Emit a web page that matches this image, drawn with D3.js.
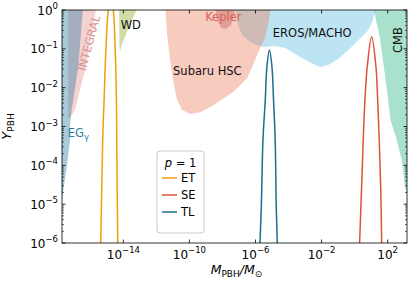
<!DOCTYPE html>
<html>
<head>
<meta charset="utf-8">
<script src="https://cdn.jsdelivr.net/npm/d3@7"></script>
<style>
  body { margin: 0; background: #fff; }
  text { font-family: "DejaVu Sans", sans-serif; }
</style>
</head>
<body>
<div id="chart"></div>
<script>
// --- tick values ---
const xTicks = [1e-14, 1e-10, 1e-6, 1e-2, 1e2];
const yTicks = [1e-6, 1e-5, 1e-4, 1e-3, 1e-2, 1e-1, 1];

// --- constraint regions, [M_PBH/M_sun, Y_PBH] ---
const integral = [[4.47e-18, 1.26], [2.45e-16, 1.26], [4.79e-17, 0.0285], [1.17e-17, 2.66e-3],
  [5.89e-18, 1.66e-3], [4.47e-18, 1.76e-3]];
const egamma = [[3.16e-19, 1.26], [3.63e-17, 1.26], [1.86e-17, 0.0347], [7.41e-18, 2.66e-3],
  [5.89e-18, 1.1e-3], [5.89e-18, 4.47e-4], [3.89e-18, 1.02e-4], [2.57e-18, 3.09e-5],
  [1.91e-18, 1.29e-5], [1.26e-18, 5e-6], [3.16e-19, 5e-6]];
const wd = [[5.5e-15, 1.26], [8.13e-14, 1.26], [2.0e-14, 0.339], [7.94e-15, 0.126],
  [6.31e-15, 0.0843], [5.75e-15, 0.126]];
const eros = [[5.89e-8, 1.26], [8.91e-8, 0.411], [1.55e-7, 0.227], [4.79e-7, 0.15], [2.57e-6, 0.111],
  [1.55e-5, 0.118], [6.31e-5, 0.105], [3.89e-4, 0.0653], [2.34e-3, 0.0432], [8.32e-3, 0.034],
  [0.0251, 0.0384], [0.102, 0.0547], [0.417, 0.0933], [1.7, 0.169], [6.03, 0.288],
  [12.0, 0.491], [20.9, 1.26]];
const subaru = [[3.39e-12, 1.26], [4.47e-12, 0.227], [6.76e-12, 0.0515], [1.02e-11, 0.0158],
  [1.78e-11, 4.79e-3], [3.63e-11, 2.66e-3], [1.1e-10, 2.09e-3], [4.47e-10, 2.34e-3],
  [2.75e-9, 3.55e-3], [4.37e-8, 7.76e-3], [3.16e-7, 0.0178], [8.32e-7, 0.0457],
  [1.91e-6, 0.105], [3.8e-6, 0.19], [5.75e-6, 0.411], [8.91e-6, 1.26]];
const kepler = [[3.63e-9, 1.26], [4.79e-9, 0.552], [8.32e-9, 0.344], [1.66e-8, 0.324],
  [3.31e-8, 0.411], [5.13e-8, 0.743], [5.89e-8, 1.26]];
const cmb = [[12.9, 1.26], [33.9, 0.19], [87.1, 9.77e-3], [148, 1.48e-3], [355, 4.47e-4],
  [708, 1.38e-4], [1122, 2.75e-5], [1698, 1.51e-5], [3162, 1.51e-5], [3162, 1.26]];

// --- PBH abundance curves, p = 1 ---
const et = [[3.98e-16, 5e-7], [4.27e-16, 1e-6], [5.6e-16, 4.47e-4], [6.8e-16, 4.79e-3],
  [8.91e-16, 0.1135], [1.23e-15, 1], [1.74e-15, 2.0], [2.45e-15, 1], [3.16e-15, 0.1135],
  [3.8e-15, 4.79e-3], [3.98e-15, 4.47e-4], [4.57e-15, 1e-6], [4.79e-15, 5e-7]];
const se = [[1.9, 5e-7], [2.0, 1e-6], [2.65, 2.82e-5], [3.31, 4.47e-4], [4.21, 4.79e-3],
  [5.81, 0.0347], [10.7, 0.205], [19.5, 0.0347], [24.8, 4.79e-3], [30.9, 4.47e-4],
  [37.7, 2.82e-5], [43.3, 1e-6], [44.7, 5e-7]];
const tl = [[1.78e-6, 5e-7], [1.86e-6, 1e-6], [2.24e-6, 8.5e-6], [2.82e-6, 4.47e-4],
  [3.89e-6, 4.79e-3], [4.9e-6, 0.0347], [6.95e-6, 0.093], [9.86e-6, 0.0347],
  [1.23e-5, 4.79e-3], [1.55e-5, 4.47e-4], [1.8e-5, 8.5e-6], [2.07e-5, 1e-6], [2.14e-5, 5e-7]];

const W = 411, H = 284;
const margin = { top: 10, right: 4, bottom: 41, left: 62 };

const svg = d3.select("#chart").append("svg")
  .attr("width", W).attr("height", H);

const x = d3.scaleLog()
  .domain([Math.pow(10, -17.715), Math.pow(10, 3.17)])
  .range([margin.left, W - margin.right]);
const y = d3.scaleLog()
  .domain([1e-6, 1])
  .range([H - margin.bottom, margin.top]);

svg.append("clipPath").attr("id", "plot")
  .append("rect")
  .attr("x", margin.left).attr("y", margin.top)
  .attr("width", W - margin.left - margin.right)
  .attr("height", H - margin.top - margin.bottom);

const plot = svg.append("g").attr("clip-path", "url(#plot)");

const area = d3.line().x(d => x(d[0])).y(d => y(d[1]));
const curve = d3.line().x(d => x(d[0])).y(d => y(d[1])).curve(d3.curveCatmullRom);

// regions, drawn back to front
const regions = [
  { data: integral, fill: "#de6969", op: 0.3 },
  { data: egamma, fill: "#287aa0", op: 0.4 },
  { data: wd, fill: "#8aab22", op: 0.4 },
  { data: eros, fill: "#26a5d4", op: 0.3 },
  { data: subaru, fill: "#eb7d5c", op: 0.4 },
  { data: kepler, fill: "#c0605a", op: 0.4 },
  { data: cmb, fill: "#2ab482", op: 0.4 }
];
plot.selectAll("path.region")
  .data(regions).enter().append("path")
  .attr("class", "region")
  .attr("d", d => area(d.data) + "Z")
  .attr("fill", d => d.fill)
  .attr("fill-opacity", d => d.op);

// region labels
function label(txt, M, Y, opts) {
  const t = plot.append("text")
    .attr("x", x(M)).attr("y", y(Y))
    .attr("font-size", 11.5)
    .attr("fill", opts.color || "#111")
    .attr("text-anchor", opts.anchor || "start")
    .text(txt);
  if (opts.rotate) {
    t.attr("transform", `rotate(${opts.rotate},${x(M)},${y(Y)})`);
  }
  return t;
}
label("WD", 6.9e-15, 0.318, {});
label("Subaru HSC", 1.02e-11, 0.0212, {});
label("EROS/MACHO", 1.12e-5, 0.205, {});
label("Kepler", 8.9e-10, 0.53, { color: "#d9625c" });
label("CMB", 690, 0.169, { rotate: -90, anchor: "middle" });
label("INTEGRAL", 8.3e-17, 0.141, { rotate: -74.7, anchor: "middle", color: "#d99494" })
  .attr("dominant-baseline", "central");
const eg = label("EG", 4.27e-18, 5.46e-4, { color: "#2f7fa6" });
eg.append("tspan").attr("dy", 3).attr("font-size", 8.5).text("γ");

// curves
const lines = [
  { name: "ET", data: et, color: "#f09c0c" },
  { name: "SE", data: se, color: "#dd5238" },
  { name: "TL", data: tl, color: "#1d6d8e" }
];
plot.selectAll("path.curve")
  .data(lines).enter().append("path")
  .attr("class", "curve")
  .attr("d", d => curve(d.data))
  .attr("fill", "none")
  .attr("stroke", d => d.color)
  .attr("stroke-width", 1.5);

// --- axes frame and ticks ---
const x0 = margin.left, x1 = W - margin.right, y0 = H - margin.bottom, y1 = margin.top;
const axes = svg.append("g").attr("stroke", "#000").attr("stroke-width", 0.8);

xTicks.forEach(v => {
  axes.append("line").attr("x1", x(v)).attr("x2", x(v)).attr("y1", y0).attr("y2", y0 - 3.5);
  axes.append("line").attr("x1", x(v)).attr("x2", x(v)).attr("y1", y1).attr("y2", y1 + 3.5);
});
yTicks.forEach(v => {
  axes.append("line").attr("y1", y(v)).attr("y2", y(v)).attr("x1", x0).attr("x2", x0 + 3.5);
  axes.append("line").attr("y1", y(v)).attr("y2", y(v)).attr("x1", x1).attr("x2", x1 - 3.5);
});
const yMinor = [];
yTicks.slice(0, -1).forEach(v => { for (let k = 2; k < 10; k++) yMinor.push(v * k); });
yMinor.forEach(v => {
  axes.append("line").attr("y1", y(v)).attr("y2", y(v)).attr("x1", x0).attr("x2", x0 + 2)
    .attr("stroke-width", 0.6);
  axes.append("line").attr("y1", y(v)).attr("y2", y(v)).attr("x1", x1).attr("x2", x1 - 2)
    .attr("stroke-width", 0.6);
});
axes.append("rect")
  .attr("x", x0).attr("y", y1).attr("width", x1 - x0).attr("height", y0 - y1)
  .attr("fill", "none");

function powText(sel, v) {
  const e = Math.round(Math.log10(v));
  sel.append("tspan").text("10");
  sel.append("tspan").attr("dy", -5.5).attr("font-size", 8.5)
    .text(e < 0 ? "\u2212" + (-e) : String(e));
}
xTicks.forEach(v => {
  const t = svg.append("text").attr("x", x(v)).attr("y", y0 + 15.5)
    .attr("text-anchor", "middle").attr("font-size", 12);
  powText(t, v);
});
yTicks.forEach(v => {
  const t = svg.append("text").attr("x", x0 - 4).attr("y", y(v) + 4.5)
    .attr("text-anchor", "end").attr("font-size", 12);
  powText(t, v);
});

// axis titles
const xl = svg.append("text").attr("x", (x0 + x1) / 2 + 2).attr("y", 274)
  .attr("text-anchor", "middle").attr("font-size", 12.5);
xl.append("tspan").attr("font-style", "italic").text("M");
xl.append("tspan").attr("font-size", 9).attr("dy", 2.5).text("PBH");
xl.append("tspan").attr("dy", -2.5).attr("font-style", "italic").text("/M");
xl.append("tspan").attr("font-size", 9).attr("dy", 2.5).text("\u2299");

const yl = svg.append("text")
  .attr("transform", `translate(11,${(y0 + y1) / 2}) rotate(-90)`)
  .attr("text-anchor", "middle").attr("font-size", 13);
yl.append("tspan").attr("font-style", "italic").text("Y");
yl.append("tspan").attr("font-size", 9).attr("dy", 3).text("PBH");

// --- legend ---
const lg = svg.append("g").attr("transform", "translate(157,151)");
lg.append("rect").attr("width", 47).attr("height", 82).attr("rx", 3)
  .attr("fill", "#fff").attr("fill-opacity", 0.8)
  .attr("stroke", "#bbb").attr("stroke-width", 0.8);
const lt = lg.append("text").attr("x", 23.5).attr("y", 15.5).attr("text-anchor", "middle")
  .attr("font-size", 11.5);
lt.append("tspan").attr("font-style", "italic").text("p");
lt.append("tspan").text(" = 1");
lines.forEach((d, i) => {
  const yy = 27 + i * 17;
  lg.append("line").attr("x1", 5).attr("x2", 20).attr("y1", yy).attr("y2", yy)
    .attr("stroke", d.color).attr("stroke-width", 1.5);
  lg.append("text").attr("x", 24).attr("y", yy + 4).attr("font-size", 11.5).text(d.name);
});
</script>
</body>
</html>
